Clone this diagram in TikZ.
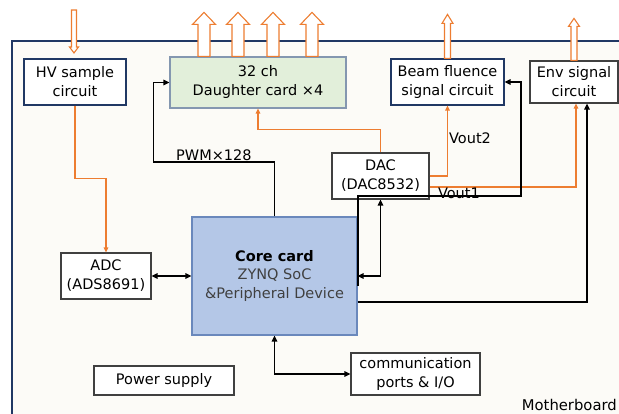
\documentclass[tikz,border=0pt]{standalone}
\usepackage{fontspec}
\setmainfont{DejaVu Sans}
\usepackage{tikz}
\usetikzlibrary{arrows.meta}
\definecolor{navy}{HTML}{203864}
\definecolor{sigorange}{HTML}{ED7D31}
\definecolor{boardbg}{HTML}{FCFBF7}
\definecolor{daufill}{HTML}{E2EFDA}
\definecolor{dauline}{HTML}{8497B0}
\definecolor{corefill}{HTML}{B4C7E7}
\definecolor{coreline}{HTML}{6A88BC}
% #1 base, #2 length, #3 half shaft, #4 half head, #5 head length
\newcommand{\hollowarrow}[5]{%
  \draw[fatarr] (#1) ++({-(#3)},0) -- ++(0,{(#5)-(#2)}) -- ++({(#3)-(#4)},0)
    -- ++(#4,{-(#5)}) -- ++(#4,#5) -- ++({(#3)-(#4)},0) -- ++(0,{(#2)-(#5)}) -- cycle;}
\tikzset{
  board/.style   = {draw=navy, line width=2.4pt, fill=boardbg},
  blkbox/.style  = {draw=black!75, line width=1.2pt, fill=white, align=center,
                    inner sep=0pt, font=\fontsize{14.5}{19}\selectfont},
  navybox/.style = {blkbox, draw=navy},
  daubox/.style  = {blkbox, draw=dauline, fill=daufill},
  corebox/.style = {blkbox, draw=coreline, fill=corefill},
  sig/.style     = {-{Triangle[length=6pt,width=5.5pt]}, line width=1.8pt, black},
  bisig/.style   = {{Triangle[length=6pt,width=5.5pt]}-{Triangle[length=6pt,width=5.5pt]},
                    line width=1.8pt, black},
  osig/.style    = {-{Triangle[length=5pt,width=4.5pt]}, line width=1.3pt, sigorange},
  fatarr/.style  = {draw=sigorange, line width=1.1pt, fill=white},
  lbl/.style     = {font=\fontsize{14.5}{16}\selectfont, inner sep=1pt}
}

\begin{document}
\begin{tikzpicture}[x=1pt,y=-1pt]
  \useasboundingbox (0,0) rectangle (619,414);
  \path[board] (12,41) rectangle (640,430);
  \node[lbl, anchor=east, font=\fontsize{14.8}{17}\selectfont] (mb) at (618,405) {Motherboard};

  \node[navybox, minimum width=102pt, minimum height=46pt] (hv)   at (75,82)      {HV sample\\circuit};
  \node[daubox,  minimum width=176pt, minimum height=51pt] (dau)  at (258,82.5)   {32 ch\\Daughter card ×4};
  \node[navybox, minimum width=113pt, minimum height=46pt] (beam) at (447.5,82)   {Beam fluence\\signal circuit};
  \node[blkbox,  minimum width=88pt,  minimum height=42pt] (env)  at (574,82)     {Env signal\\circuit};
  \node[blkbox,  minimum width=97pt,  minimum height=46pt] (dac)  at (380.5,176)  {DAC\\(DAC8532)};
  \node[corebox, minimum width=165pt, minimum height=118pt] (core) at (274.5,276) {\textbf{Core card}\\
        \textcolor{black!75}{ZYNQ SoC}\\\textcolor{black!75}{\&Peripheral Device}};
  \node[blkbox,  minimum width=90pt,  minimum height=46pt] (adc)  at (106,276)    {ADC\\(ADS8691)};
  \node[blkbox,  minimum width=140pt, minimum height=29pt] (pwr)  at (164,380.5)  {Power supply};
  \node[blkbox,  minimum width=129pt, minimum height=42pt] (comm) at (415.5,374)  {communication\\ports \& I/O};

  \coordinate (hvin) at (74,10);
  \hollowarrow{hvin}{-43}{2.5}{4.5}{-6}
  \foreach \dx in {-54,-20,15,54}{
    \hollowarrow{[xshift=\dx pt]dau.north}{44}{6}{11.5}{12}
  }
  \hollowarrow{beam.north}{44}{3}{5.5}{9}
  \hollowarrow{env.north}{42}{3}{5.5}{8}

  \draw[osig] (hv.south) -- ++(0,73) -| (adc.north);
  \draw[osig] (dac.north) -- ++(0,-23) -| (dau.south);
  \draw[osig] (dac.east) -| (beam.south) node[lbl, pos=0.77, right, text=black] (vout2) {Vout2};
  \draw[osig] ([yshift=-11pt]dac.east) -| ([xshift=2pt]env.south)
        node[lbl, pos=0.1, below=-1pt, text=black] (vout1) {Vout1};

  \draw[sig] (core.north) -- ++(0,-54) -| ([xshift=-16pt]dau.west)
        node[lbl, pos=0.25, above] (pwm) {PWM×128} -- (dau.west);
  \draw[sig] ([yshift=-10pt]core.east) -- ++(0,-90) -| ([xshift=16pt]beam.east) -- (beam.east);
  \draw[bisig] (core.east) -| (dac.south);
  \draw[sig] ([yshift=-26pt]core.east) -| ([xshift=13pt]env.south);
  \draw[bisig] (adc.east) -- (core.west);
  \draw[bisig] (core.south) |- (comm.west);
\end{tikzpicture}
\end{document}
